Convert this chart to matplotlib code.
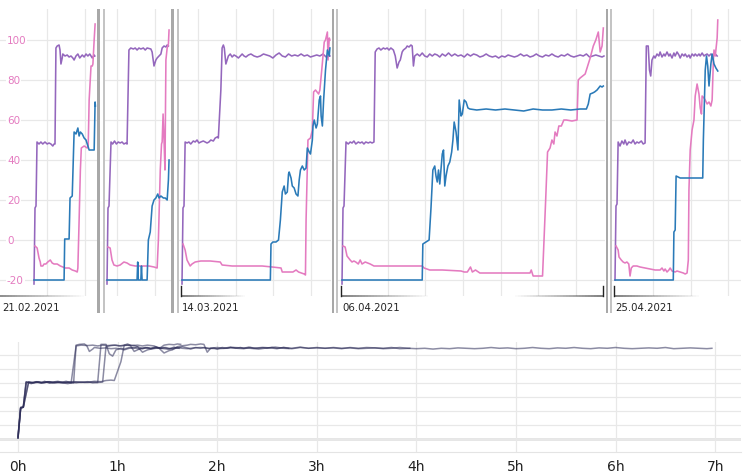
import matplotlib
matplotlib.use("Agg")
import matplotlib.pyplot as plt
import numpy as np
from matplotlib.collections import LineCollection
from matplotlib.patches import Rectangle
from matplotlib.transforms import blended_transform_factory

W, H = 752, 477
PXH = 37.6  # top panels: pixels per hour

dates = ["21.02.2021", "", "14.03.2021", "06.04.2021", "25.04.2021"]
y_ticks = [-20, 0, 20, 40, 60, 80, 100]
hour_labels = ["0h", "1h", "2h", "3h", "4h", "5h", "6h", "7h"]

# (minutes since start, value)
purple1 = [(0, -22), (1.6, 16), (3.2, 17), (4.8, 49), (8, 48), (11, 49), (14, 48), (17.5, 49),
           (21, 48), (24, 48.5), (27, 48), (30, 47), (32, 48), (33.5, 48), (35, 96), (37, 97),
           (40, 97.5), (41.5, 95), (43, 88), (45, 91), (46, 93), (49.5, 92), (53, 92.5),
           (56, 91.5), (59, 92), (62, 91), (64, 90), (67, 92), (70, 93), (73, 91), (77, 92.5),
           (80, 91.5), (83, 93), (86, 92), (89, 93), (93, 91), (96, 92.5), (97, 92)]
blue1 = [(0, -20), (48, -20), (49, 0.5), (56, 0.5), (57.5, 21), (61, 22), (64, 54), (67, 53),
         (70, 56), (72, 52), (74, 54), (77, 53), (80, 51), (83, 50), (86, 47), (88, 45),
         (96, 45), (97.5, 69), (98, 67)]
pink1 = [(1.6, -3), (5, -4), (8, -9), (10, -11), (11, -13), (14, -13), (16, -12), (19, -12),
         (22, -11), (26, -10), (29, -11.5), (32, -12), (37, -12), (42, -13), (46, -13.5),
         (50, -14), (56, -14), (61, -15), (66, -15.5), (69, -16), (70, -14), (72, 10), (74, 35),
         (75.5, 46), (80, 47), (85, 46), (86.5, 47), (88, 70), (91, 87), (93, 87), (94, 88),
         (96, 100), (97.5, 108)]

purple2 = [(0, -22), (1.6, 16), (3.2, 17), (6.4, 49), (9, 48), (12, 49.5), (15, 48), (18, 49),
           (21, 48.5), (24, 49), (27, 48), (30, 48.5), (32, 48), (35, 95), (38, 96), (42, 95.5),
           (45, 96), (48, 95), (51, 96), (54, 95.5), (58, 96), (61, 95), (64, 96), (70, 95.5),
           (72, 94), (75, 87), (78, 90), (80, 91), (83, 92), (86, 93), (88, 96), (91, 97),
           (94, 96.5), (96, 97.5), (98, 97)]
blue2 = [(0, -20), (48, -20), (49, -11), (50, -20), (54, -20), (55, -13), (56, -20), (64, -20),
         (66, 0), (69, 4), (72, 17), (75, 20), (78, 21), (81, 23), (83, 21), (86, 22), (90, 21),
         (93, 21), (96, 20), (98, 30), (99, 40)]
pink2 = [(1.6, -3.5), (5, -4), (8, -10), (11, -12.5), (16, -13), (21, -12.5), (27, -11),
         (32, -11.5), (37, -12.5), (45, -13), (56, -13), (67, -13), (75, -13.5), (80, -14),
         (82, 0), (85, 35), (87, 48), (88, 49), (89.5, 63), (91, 50), (92.5, 35), (94, 90),
         (96, 96), (98, 98), (99, 105)]

purple3 = [(0, -22), (1.6, 16), (3.2, 17), (5, 49), (8, 48.5), (11, 49), (14, 48), (18, 49.5),
           (21, 49), (24, 50), (27, 48.5), (30, 49), (34, 49.5), (37, 49), (40, 48.5), (43, 49),
           (46, 50), (50, 49.5), (53, 51), (56, 51.5), (58, 51), (62, 75), (64, 96), (66, 97.5),
           (67.5, 96), (70, 88), (72, 90), (74, 92), (77, 93), (80, 91.5), (83, 92.5), (86, 92),
           (90, 91), (93, 92), (96, 93), (99, 92), (102, 91.5), (106, 92.5), (110, 93),
           (115, 92), (120, 91.5), (125, 92), (130, 93), (135, 92.5), (140, 92), (145, 91),
           (150, 92.5), (155, 93.5), (160, 92), (165, 91.5), (170, 93), (175, 92), (180, 92.5),
           (185, 92), (190, 93), (195, 92), (200, 92.5), (205, 91.5), (210, 92), (215, 92.5),
           (220, 92), (225, 93), (230, 91.5), (236, 92)]
blue3 = [(0, -20), (141, -20), (142, -2), (145, -1), (150, -1), (154, 0), (157, 10), (160, 24),
         (163, 27), (165, 23), (168, 24), (170, 33), (171, 34), (174, 31), (176, 27), (179, 26),
         (182, 23), (185, 22), (187, 30), (189, 35), (192, 37), (195, 35), (198, 36), (200, 46),
         (203, 44), (205, 43), (208, 50), (209, 57), (211, 60), (214, 56), (216, 58), (219, 70),
         (221, 72), (222, 62), (224, 57), (226, 70), (229, 85), (232, 95), (235, 92), (236, 96)]
pink3 = [(1.6, -2), (5, -5), (8, -10), (13, -13), (16, -12), (21, -11), (30, -10.5), (45, -10.5),
         (61, -11), (64, -12.5), (80, -13), (100, -13), (128, -13), (144, -13.5), (158, -14),
         (160, -16), (177, -16), (182, -15), (186, -16), (195, -17), (197, -17.5), (198, 10),
         (201, 50), (205, 51), (208, 55), (210, 74), (213, 75), (218, 73), (220, 75), (223, 85),
         (227, 99), (229, 100), (232, 104), (233, 90), (235, 101), (236, 100)]

purple4 = [(0, -22), (1.6, 16), (3.2, 17), (6.4, 49), (10, 48), (13, 49), (16, 48.5), (19, 49.5),
           (22, 48), (26, 49), (29, 48.5), (32, 49), (35, 48), (38, 49), (42, 48.5), (45, 49),
           (48, 48.5), (51, 49), (53, 94), (56, 95.5), (59, 96), (62, 95), (66, 96), (69, 95.5),
           (72, 96), (75, 95), (78, 96), (82, 95), (85, 92), (88, 86), (91, 89), (93, 90),
           (96, 94), (98, 95), (102, 96), (104, 97), (107, 96.5), (110, 97.5), (112, 97),
           (114, 87), (116, 92), (120, 93), (124, 92), (128, 93.5), (132, 92), (136, 91.5),
           (140, 93), (144, 92), (148, 93), (152, 92.5), (156, 91.5), (160, 93), (165, 92),
           (170, 93.5), (175, 92), (180, 93), (185, 92), (190, 92.5), (195, 91.5), (200, 93),
           (205, 92), (210, 93), (215, 92.5), (220, 91.5), (225, 92), (230, 93), (235, 92),
           (240, 91.5), (245, 92), (250, 91), (255, 92), (260, 91.5), (265, 92.5), (270, 92),
           (275, 91.5), (280, 92), (285, 93), (290, 92), (295, 92.5), (300, 91.5), (305, 92),
           (310, 93), (315, 92), (320, 91.5), (325, 92.5), (330, 92), (335, 93), (340, 92),
           (345, 91.5), (350, 92.5), (355, 92), (360, 93), (365, 92), (370, 91.5), (375, 92),
           (380, 92.5), (385, 92), (390, 93), (395, 91.5), (400, 92), (405, 92.5), (410, 92),
           (415, 91.5), (418, 92)]
blue4 = [(0, -20), (128, -20), (129, -2), (134, -1), (139, 0), (142, 16), (145, 35), (148, 37),
         (150, 32), (152, 29), (154, 35), (156, 28), (160, 43), (162, 45), (164, 27), (166, 32),
         (169, 37), (172, 39), (175, 44), (177, 50), (179, 59), (182, 54), (185, 45), (187, 70),
         (190, 62), (192, 63), (195, 70), (198, 69), (201, 66), (204, 65.5), (215, 65),
         (230, 65.5), (245, 65), (260, 65.5), (275, 65), (290, 64.5), (305, 65.5), (320, 65),
         (335, 65), (350, 65.5), (365, 65), (380, 65.5), (390, 65.5), (393, 68), (396, 73),
         (400, 73.5), (403, 74), (407, 75), (412, 77), (415, 76.5), (417, 77)]
pink4 = [(1.6, -3), (5, -3.5), (8, -8), (13, -10), (16, -11), (19, -10.5), (22, -11), (26, -12),
         (29, -10), (32, -12), (37, -11), (45, -12), (51, -13), (70, -13), (90, -13), (110, -13),
         (128, -13), (131, -14), (140, -15), (160, -15), (190, -15.5), (195, -16), (200, -16),
         (205, -13.5), (208, -16), (213, -15), (220, -16.5), (240, -16.5), (260, -16.5),
         (275, -16.5), (300, -16.5), (302, -15), (305, -18), (320, -18), (325, 20), (328, 44),
         (332, 46), (335, 50), (338, 48), (340, 54), (343, 52), (346, 57), (350, 57), (354, 60),
         (358, 60), (367, 59.5), (375, 60), (377, 80), (380, 81), (388, 83), (393, 88), (396, 91),
         (401, 97), (405, 100), (409, 104), (412, 94), (415, 97), (417, 106)]

purple5 = [(0, -20), (1.6, 17), (3.2, 18), (5, 49), (8, 47), (11, 49.5), (14, 48), (16, 50),
           (19, 47.5), (22, 49), (26, 48.5), (29, 50), (32, 48), (35, 49), (38, 48.5), (42, 49.5),
           (45, 48), (48, 48.5), (50, 97), (53, 97), (55, 85), (57, 82), (59, 90), (62, 92),
           (64, 91), (67, 93), (70, 92), (72, 94), (75, 91.5), (78, 93), (80, 92), (83, 94),
           (86, 92), (88, 93), (91, 91), (94, 93.5), (96, 92), (99, 94), (102, 92.5), (104, 91),
           (107, 93), (110, 92), (112, 93), (115, 91.5), (118, 92.5), (120, 91), (123, 93),
           (126, 92), (128, 93), (131, 92), (134, 93), (136, 92), (139, 93.5), (142, 92),
           (144, 92.5), (147, 93), (150, 92), (153, 93), (156, 92), (160, 93), (163, 92)]
blue5 = [(0, -20), (93, -20), (94, 4), (96, 5), (97.5, 32), (104, 31), (120, 31), (140, 31),
         (141, 50), (144, 85), (146, 92), (148, 87), (150, 77), (153, 88), (155, 93), (158, 88),
         (161, 86), (164, 84.5)]
pink5 = [(1.6, -3), (5, -5), (6.4, -8.5), (10, -10), (13, -11), (16, -11.5), (19, -11), (22, -12),
         (24, -18), (26, -14), (29, -13), (35, -13), (40, -13.5), (48, -14), (56, -14.5),
         (64, -15), (72, -15), (75, -14), (78, -15.5), (80, -14.5), (83, -16), (86, -15),
         (88, -14), (91, -15.5), (96, -16), (99, -15.5), (104, -16), (109, -16.5), (112, -17),
         (115, -16.5), (117, -10), (118, 25), (120, 45), (123, 55), (126, 60), (128, 72),
         (131, 78), (134, 73), (136, 66), (138, 63), (139, 72), (142, 71), (144, 70), (147, 68),
         (150, 69), (153, 67), (155, 70), (157, 90), (158, 95), (160, 92), (163, 101), (164, 110)]

segments = [
    (purple1, blue1, pink1),
    (purple2, blue2, pink2),
    (purple3, blue3, pink3),
    (purple4, blue4, pink4),
    (purple5, blue5, pink5),
]

# panel layout in pixels: left, right, data start, first gridline (h)
panels = [(0, 97, 34, 0.35), (105, 171, 107, 0.27), (179, 331, 182, 0.43),
          (338, 605, 342, 1.22), (612, 741, 615, 1.01)]

PURPLE = "#9467bd"
BLUE = "#2a7ab8"
PINK = "#e47bc0"
GRID = "#e8e8e8"

fig = plt.figure(figsize=(W / 100, H / 100), dpi=100)


def px_axes(x0, x1, y0, y1):
    return fig.add_axes([x0 / W, 1 - y1 / H, (x1 - x0) / W, (y1 - y0) / H])


def unzip(pairs):
    t, v = zip(*pairs)
    return np.array(t) / 60.0, np.array(v)


def fade_line(ax, f0, f1, a0, a1, n=30):
    xs = np.linspace(f0, f1, n + 1)
    segs = [[(xs[i], 0), (xs[i + 1], 0)] for i in range(n)]
    alphas = np.linspace(a0, a1, n)
    cols = [(0.35, 0.35, 0.35, a) for a in alphas]
    lc = LineCollection(segs, colors=cols, linewidths=1.2,
                        transform=ax.transAxes, clip_on=False)
    ax.add_collection(lc)


TOP0, TOP1 = 10, 297
for i, ((x0, x1, start, phase), (pu, bl, pk)) in enumerate(zip(panels, segments)):
    ax = px_axes(x0, x1, TOP0, TOP1)
    xmin = (x0 - start) / PXH
    xmax = (x1 - start) / PXH
    ax.set_xlim(xmin, xmax)
    ax.set_ylim(-28, 115.5)
    ax.set_yticks(y_ticks)
    ax.set_xticks(np.arange(phase, xmax, 1.0))
    ax.grid(True, color=GRID, lw=0.9)
    ax.set_axisbelow(True)
    ax.tick_params(length=0, labelbottom=False, labelleft=False)
    for s in ax.spines.values():
        s.set_visible(False)

    for pairs, col in ((pu, PURPLE), (pk, PINK), (bl, BLUE)):
        t, v = unzip(pairs)
        ax.plot(t, v, color=col, lw=1.15, solid_joinstyle="round")

    w = x1 - x0
    f_start = (start - 1 - x0) / w
    if i == 0:
        fade_line(ax, 0, 0.9, 0.8, 0.0)
    elif i == 2:
        fade_line(ax, f_start, 0.45, 0.9, 0.0)
    elif i == 3:
        fade_line(ax, f_start, 0.35, 0.9, 0.0)
        fade_line(ax, 0.65, (603 - x0) / w, 0.0, 0.9)
        ax.plot([(603 - x0) / w] * 2, [0, 10 / (TOP1 - TOP0)], color="#222",
                lw=1, transform=ax.transAxes, clip_on=False)
    elif i == 4:
        fade_line(ax, f_start, 0.7, 0.9, 0.0)
    if i >= 2:
        ax.plot([f_start] * 2, [0, 10 / (TOP1 - TOP0)], color="#222", lw=1,
                transform=ax.transAxes, clip_on=False)

    if dates[i]:
        lx = x0 + 2 if i == 0 else start
        fig.text(lx / W, 1 - 308 / H, dates[i], fontsize=7.3, color="#222",
                 ha="left", va="center")

    if i == 0:
        tr = blended_transform_factory(ax.transAxes, ax.transData)
        for v in y_ticks:
            ax.text(7 / w, v, str(v), transform=tr, color=PINK, fontsize=7.5,
                    ha="left", va="center",
                    bbox=dict(facecolor="white", edgecolor="none", pad=0.6))

# separators between broken segments
for g0, g1 in [(97, 105), (171, 179), (331, 338), (605, 612)]:
    fig.patches.append(Rectangle((g0 / W + 0.5 / W, 1 - 314 / H), 2.2 / W, 304 / H,
                                 transform=fig.transFigure, color="#a8a8a8", lw=0))
    fig.patches.append(Rectangle(((g1 - 2.2) / W, 1 - 314 / H), 2.2 / W, 304 / H,
                                 transform=fig.transFigure, color="#c4c4c4", lw=0))

# bottom: purple series aligned at start
axb = px_axes(0, 741, 343, 453)
axb.set_xlim(-18 / 99.6, 723 / 99.6)
axb.set_ylim(-40, 100)
b_ticks = [-41 + 17.7 * k for k in range(1, 8)]
axb.set_yticks(b_ticks)
axb.set_xticks(range(len(hour_labels)))
axb.set_xticklabels(hour_labels)
axb.grid(True, color=GRID, lw=0.9)
axb.axhline(b_ticks[0], color="#dedede", lw=1.8, zorder=0)
axb.set_axisbelow(True)
axb.tick_params(length=0, labelleft=False, labelsize=10, labelcolor="#222", pad=5)
for s in axb.spines.values():
    s.set_visible(False)
axb.spines["bottom"].set_visible(True)
axb.spines["bottom"].set_color("#e4e4e4")
for pu, _, _ in segments:
    t, v = unzip(pu)
    axb.plot(t, v, color="#2c2c58", alpha=0.55, lw=1.1)

fig.savefig("out.png", dpi=100)
